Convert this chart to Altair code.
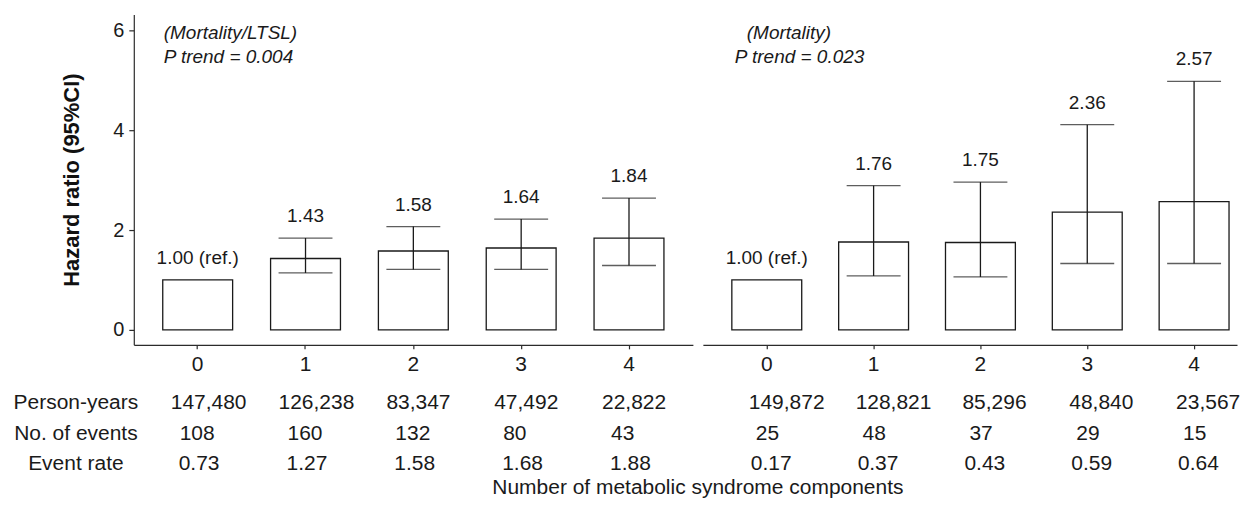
import altair as alt
import pandas as pd

CATS = ["0", "1", "2", "3", "4"]

# Panel 1: Mortality/LTSL
HR_L = [1.00, 1.43, 1.58, 1.64, 1.84]
LO_L = [None, 1.14, 1.21, 1.21, 1.29]
HI_L = [None, 1.84, 2.07, 2.22, 2.64]
LAB_L = ["1.00 (ref.)", "1.43", "1.58", "1.64", "1.84"]
PY_L = ["147,480", "126,238", "83,347", "47,492", "22,822"]
EV_L = ["108", "160", "132", "80", "43"]
RATE_L = ["0.73", "1.27", "1.58", "1.68", "1.88"]
ANN_L = ["(Mortality/LTSL)", "P trend = 0.004"]

# Panel 2: Mortality
HR_M = [1.00, 1.76, 1.75, 2.36, 2.57]
LO_M = [None, 1.08, 1.06, 1.33, 1.33]
HI_M = [None, 2.89, 2.96, 4.11, 4.98]
LAB_M = ["1.00 (ref.)", "1.76", "1.75", "2.36", "2.57"]
PY_M = ["149,872", "128,821", "85,296", "48,840", "23,567"]
EV_M = ["25", "48", "37", "29", "15"]
RATE_M = ["0.17", "0.37", "0.43", "0.59", "0.64"]
ANN_M = ["(Mortality)", "P trend = 0.023"]

ROW_LABELS = ["Person-years", "No. of events", "Event rate"]
X_TITLE = "Number of metabolic syndrome components"
Y_TITLE = "Hazard ratio (95%CI)"

INK = "#1a1a1a"
FONT = "Liberation Sans"
ROW_Y = [389, 420, 450]
TITLE_Y = 474
H = 331


def panel(hr, lo, hi, labs, py, ev, rate, ann, width, pin, pout, align,
          show_y, table_dx, ann_dx, extra=None):
    df = pd.DataFrame({"cat": CATS, "hr": hr, "lo": lo, "hi": hi, "lab": labs,
                       "py": py, "ev": ev, "rate": rate})
    df["ly"] = df["hi"].fillna(df["hr"])
    ci = df.dropna(subset=["lo"])

    x = alt.X("cat:N", sort=CATS,
              scale=alt.Scale(paddingInner=pin, paddingOuter=pout, align=align),
              axis=alt.Axis(title=None, labelAngle=0, labelFontSize=21,
                            tickSize=4, labelPadding=5))
    yscale = alt.Scale(domain=[-0.3, 6.32], nice=False, zero=False)
    if show_y:
        yaxis = alt.Axis(values=[0, 2, 4, 6], title=Y_TITLE, titleFontSize=22,
                         titleFontWeight="bold", titlePadding=29,
                         labelFontSize=20, tickSize=5, labelPadding=5)
    else:
        yaxis = None

    def Y(f):
        return alt.Y(f + ":Q", scale=yscale, axis=yaxis)

    base = alt.Chart(df)
    bars = base.mark_bar(fill="white", stroke=INK, strokeWidth=1.3).encode(
        x=x, y=Y("hr"), y2=alt.datum(0))
    rule = alt.Chart(ci).mark_rule(color=INK, strokeWidth=1.3).encode(
        x=x, y=Y("lo"), y2="hi:Q")
    cap_lo = alt.Chart(ci).mark_tick(color=INK, size=54, thickness=1.3,
                                     orient="horizontal").encode(x=x, y=Y("lo"))
    cap_hi = alt.Chart(ci).mark_tick(color=INK, size=54, thickness=1.3,
                                     orient="horizontal").encode(x=x, y=Y("hi"))
    vals = base.mark_text(fontSize=19, color=INK, baseline="middle", dy=-22).encode(
        x=x, y=Y("ly"), text="lab:N")

    layers = [bars, rule, cap_lo, cap_hi, vals]

    # annotations
    for i, (t, dx) in enumerate(zip(ann, ann_dx)):
        a = alt.Chart(pd.DataFrame({"cat": ["0"], "t": [t]})).mark_text(
            fontSize=19, fontStyle="italic", color=INK, align="left",
            baseline="middle", dx=dx).encode(
            x=x, y=alt.value(19 + 24 * i), text="t:N")
        layers.append(a)

    # table rows
    for field, yv, dx in zip(["py", "ev", "rate"], ROW_Y, table_dx):
        t = base.mark_text(fontSize=21, color=INK, align="left",
                           baseline="middle", dx=dx).encode(
            x=x, y=alt.value(yv), text=field + ":N")
        layers.append(t)

    if extra:
        layers.extend(extra)

    return alt.layer(*layers).properties(width=width, height=H)


row_layers = []
for lab, yv in zip(ROW_LABELS, ROW_Y):
    row_layers.append(
        alt.Chart(pd.DataFrame({"t": [lab]})).mark_text(
            fontSize=21, color=INK, align="center", baseline="middle").encode(
            x=alt.value(-58), y=alt.value(yv), text="t:N"))
title_layer = alt.Chart(pd.DataFrame({"t": [X_TITLE]})).mark_text(
    fontSize=21, color=INK, align="center", baseline="middle").encode(
    x=alt.value(565), y=alt.value(TITLE_Y), text="t:N")

left = panel(HR_L, LO_L, HI_L, LAB_L, PY_L, EV_L, RATE_L, ANN_L,
             560, 0.3519, 0.2685, 0.5, True, [-27, -18, -19], [-34, -34],
             extra=row_layers + [title_layer])
right = panel(HR_M, LO_M, HI_M, LAB_M, PY_M, EV_M, RATE_M, ANN_M,
              535, 0.3458, 0.1729, 0.784, False, [-18, -11, -16], [-20, -32])

chart = alt.hconcat(left, right, spacing=10, bounds="flush").properties(
    padding={"left": 5, "top": 6, "right": 2, "bottom": 0}
).configure(font=FONT).configure_view(stroke=None).configure_axis(
    grid=False, domainColor="#2b2b2b", tickColor="#2b2b2b", domainWidth=1.2,
    tickWidth=1.2, labelColor=INK, titleColor="#111111"
)

chart.save("out.html", embed_options={"renderer": "svg", "actions": False})
